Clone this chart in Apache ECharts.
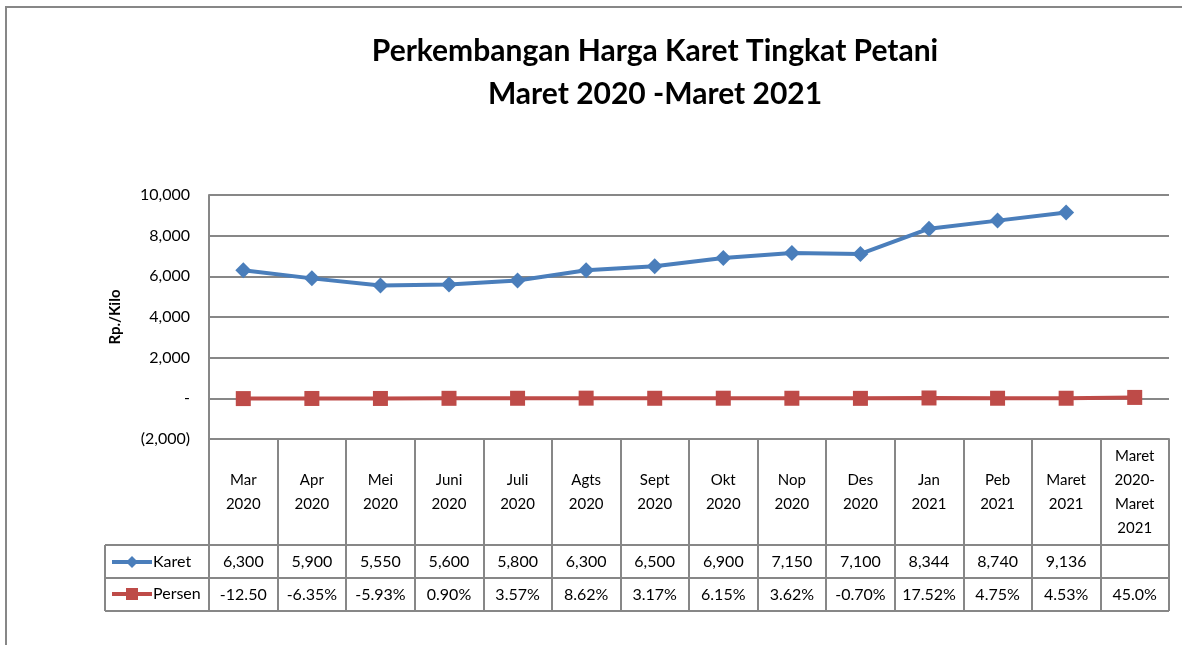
<!DOCTYPE html>
<html>
<head>
<meta charset="utf-8">
<script src="https://cdn.jsdelivr.net/npm/echarts@6/dist/echarts.min.js"></script>
<style>
  html, body { margin: 0; padding: 0; background: #fff; }
  #chart { width: 1182px; height: 645px; }
</style>
</head>
<body>
<div id="chart"></div>
<script>
var categories = ['Mar\n2020', 'Apr\n2020', 'Mei\n2020', 'Juni\n2020', 'Juli\n2020', 'Agts\n2020', 'Sept\n2020',
                  'Okt\n2020', 'Nop\n2020', 'Des\n2020', 'Jan\n2021', 'Peb\n2021', 'Maret\n2021', 'Maret\n2020-\nMaret\n2021'];
var karet = [6300, 5900, 5550, 5600, 5800, 6300, 6500, 6900, 7150, 7100, 8344, 8740, 9136, null];
var persen = [-12.50, -6.35, -5.93, 0.90, 3.57, 8.62, 3.17, 6.15, 3.62, -0.70, 17.52, 4.75, 4.53, 45.0];
var persenText = ['-12.50', '-6.35%', '-5.93%', '0.90%', '3.57%', '8.62%', '3.17%', '6.15%', '3.62%', '-0.70%', '17.52%', '4.75%', '4.53%', '45.0%'];
var yTicks = {min: -2000, max: 10000, step: 2000};

var FONT = 'Lato, "Open Sans", sans-serif';
var GRAY = '#878787';
var gLeft = 209, gRight = 1169, gTop = 195, gBottom = 439;
var tableLeft = 105, rowY = [545, 578, 611];

function fmtNum(v){
    if (v === 0) return '-';
    var s = Math.abs(v).toString().replace(/\B(?=(\d{3})+(?!\d))/g, ',');
    return v < 0 ? '(' + s + ')' : s;
}

var chart = echarts.init(document.getElementById('chart'));

// outer frame + table rows
var frame = [
    {type: 'polyline', shape: {points: [[6, 645], [6, 7], [1182, 7]]}, style: {stroke: GRAY, lineWidth: 2, fill: null}}
];
for (var i = 0; i < rowY.length; i++) {
    frame.push({type: 'line', shape: {x1: tableLeft, y1: rowY[i], x2: gRight, y2: rowY[i]}, style: {stroke: GRAY, lineWidth: 2}});
}
frame.push({type: 'line', shape: {x1: tableLeft, y1: rowY[0], x2: tableLeft, y2: rowY[2]}, style: {stroke: GRAY, lineWidth: 2}});

var option = {
    backgroundColor: '#fff',
    textStyle: {fontFamily: FONT},
    title: {
        text: 'Perkembangan Harga Karet Tingkat Petani\nMaret 2020 -Maret 2021',
        left: 650, top: 25, textAlign: 'center',
        textStyle: {fontSize: 30, fontWeight: 'bold', color: '#000', lineHeight: 43, fontFamily: FONT}
    },
    legend: {
        orient: 'vertical', left: 110, top: 554, padding: 0,
        itemWidth: 40, itemHeight: 15, itemGap: 16,
        lineStyle: {width: 4},
        textStyle: {fontSize: 16, color: '#000', padding: [0, 0, 0, -4]},
        data: ['Karet', 'Persen']
    },
    grid: {left: gLeft, right: 1182 - gRight, top: gTop, bottom: 645 - gBottom, containLabel: false},
    xAxis: [
        {
            type: 'category', data: categories, boundaryGap: true, position: 'bottom',
            axisLine: {show: true, onZero: false, lineStyle: {color: GRAY, width: 2}},
            axisTick: {show: true, length: 172, lineStyle: {color: GRAY, width: 2}},
            axisLabel: {interval: 0, margin: 53, verticalAlign: 'middle', lineHeight: 24, fontSize: 15, color: '#000'}
        },
        {
            type: 'category', data: categories, position: 'bottom',
            axisLine: {show: false}, axisTick: {show: false},
            axisLabel: {interval: 0, margin: 123, verticalAlign: 'middle', fontSize: 16, color: '#000',
                formatter: function(v, idx){ return karet[idx] == null ? '' : fmtNum(karet[idx]); }}
        },
        {
            type: 'category', data: categories, position: 'bottom',
            axisLine: {show: false}, axisTick: {show: false},
            axisLabel: {interval: 0, margin: 156, verticalAlign: 'middle', fontSize: 16, color: '#000',
                formatter: function(v, idx){ return persenText[idx]; }}
        }
    ],
    yAxis: {
        type: 'value', min: yTicks.min, max: yTicks.max, interval: yTicks.step,
        name: 'Rp./Kilo', nameLocation: 'middle', nameRotate: 90, nameGap: 86,
        nameTextStyle: {fontSize: 15, fontWeight: 'bold', color: '#000'},
        axisLine: {show: true, lineStyle: {color: GRAY, width: 2}},
        axisTick: {show: false},
        axisLabel: {fontSize: 16, color: '#000', margin: 19, formatter: fmtNum},
        splitLine: {show: true, lineStyle: {color: GRAY, width: 2}}
    },
    series: [
        {
            name: 'Karet', type: 'line', data: karet, xAxisIndex: 0,
            symbol: 'diamond', symbolSize: 16,
            lineStyle: {color: '#4a7ebb', width: 4},
            itemStyle: {color: '#4a7ebb'}
        },
        {
            name: 'Persen', type: 'line', data: persen, xAxisIndex: 0,
            symbol: 'rect', symbolSize: 15,
            lineStyle: {color: '#be4b48', width: 4},
            itemStyle: {color: '#be4b48'}
        }
    ],
    graphic: frame,
    animation: false
};
chart.setOption(option);
</script>
</body>
</html>
